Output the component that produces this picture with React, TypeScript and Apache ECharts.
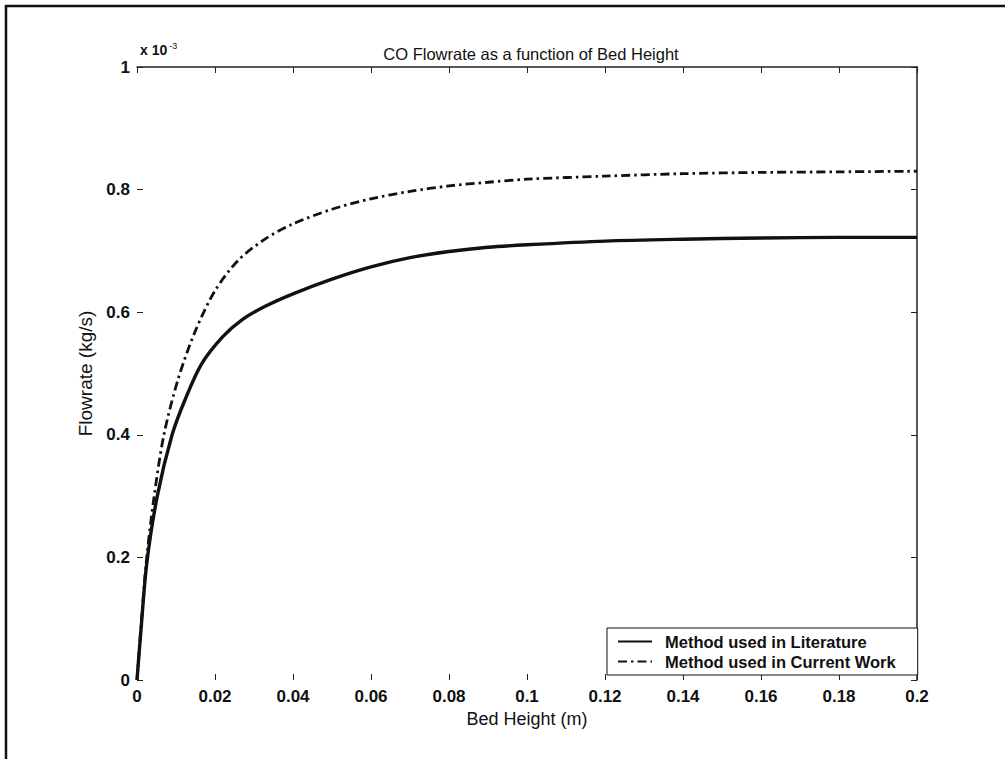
import React, { useEffect, useRef } from 'react';
import * as echarts from 'echarts';

const chartTitle = 'CO Flowrate as a function of Bed Height';
const xAxisName = 'Bed Height (m)';
const yAxisName = 'Flowrate (kg/s)';
const seriesNames = ['Method used in Literature', 'Method used in Current Work'];

// Bed height (m) and flowrate (x 10^-3 kg/s)
const litX = [0, 0.001, 0.0025, 0.0052, 0.009, 0.0125, 0.0165, 0.022, 0.027, 0.033, 0.04, 0.05, 0.06, 0.07, 0.08, 0.09, 0.1, 0.12, 0.14, 0.16, 0.18, 0.2];
const litY = [0, 0.08, 0.19, 0.3, 0.4, 0.46, 0.515, 0.56, 0.588, 0.61, 0.63, 0.654, 0.674, 0.689, 0.699, 0.706, 0.71, 0.716, 0.719, 0.721, 0.722, 0.722];

const curX = [0, 0.001, 0.0025, 0.0044, 0.0069, 0.0105, 0.015, 0.02, 0.026, 0.033, 0.04, 0.05, 0.06, 0.07, 0.08, 0.09, 0.1, 0.12, 0.14, 0.16, 0.18, 0.2];
const curY = [0, 0.085, 0.2, 0.3, 0.4, 0.49, 0.57, 0.635, 0.685, 0.72, 0.744, 0.768, 0.785, 0.797, 0.806, 0.812, 0.817, 0.822, 0.826, 0.828, 0.829, 0.83];

const FONT = '"Liberation Sans", Arial, Helvetica, sans-serif';

export default function App() {
  const ref = useRef<HTMLDivElement>(null);
  useEffect(() => {
    const chart = echarts.init(ref.current as HTMLDivElement, null, { renderer: 'svg' });
    const litData = litX.map((x, i) => [x, litY[i]]);
    const curData = curX.map((x, i) => [x, curY[i]]);
    chart.setOption({
      animation: false,
      backgroundColor: '#ffffff',
      textStyle: { fontFamily: FONT },
      title: {
        text: chartTitle,
        left: 526,
        top: 40,
        textAlign: 'center',
        textStyle: { fontFamily: FONT, fontSize: 16.5, fontWeight: 'normal', color: '#111' },
      },
      grid: { left: 137, right: 88, top: 67, bottom: 79, containLabel: false },
      legend: {
        orient: 'vertical',
        left: 607,
        top: 628,
        padding: [5, 22, 5, 10],
        itemGap: 3,
        itemWidth: 34,
        itemHeight: 12,
        borderColor: '#111',
        borderWidth: 1,
        backgroundColor: '#fff',
        itemStyle: { opacity: 0 },
        textStyle: { fontFamily: FONT, fontSize: 16.5, fontWeight: 'bold', color: '#111', padding: [0, 0, 0, 8] },
        data: seriesNames,
      },
      xAxis: [
        {
          type: 'value',
          min: 0,
          max: 0.2,
          interval: 0.02,
          name: xAxisName,
          nameLocation: 'middle',
          nameGap: 30,
          nameTextStyle: { fontFamily: FONT, fontSize: 18, color: '#111' },
          axisLine: { show: false, onZero: false },
          axisTick: { show: true, inside: true, length: 6, lineStyle: { color: '#222', width: 1 } },
          axisLabel: { margin: 8, fontSize: 17, fontWeight: 'bold', color: '#111', fontFamily: FONT },
          splitLine: { show: false },
        },
        {
          type: 'value',
          position: 'top',
          min: 0,
          max: 0.2,
          interval: 0.02,
          axisLine: { show: true, onZero: false, lineStyle: { color: '#222', width: 1.5 } },
          axisTick: { show: true, inside: true, length: 6, lineStyle: { color: '#222', width: 1 } },
          axisLabel: { show: false },
          splitLine: { show: false },
        },
      ],
      yAxis: [
        {
          type: 'value',
          min: 0,
          max: 1,
          interval: 0.2,
          name: yAxisName,
          nameLocation: 'middle',
          nameGap: 35,
          nameTextStyle: { fontFamily: FONT, fontSize: 19, color: '#111' },
          axisLine: { show: false, onZero: false },
          axisTick: { show: true, inside: true, length: 6, lineStyle: { color: '#222', width: 1 } },
          axisLabel: { margin: 7, fontSize: 17, fontWeight: 'bold', color: '#111', fontFamily: FONT },
          splitLine: { show: false },
        },
        {
          type: 'value',
          position: 'right',
          min: 0,
          max: 1,
          interval: 0.2,
          axisLine: { show: true, onZero: false, lineStyle: { color: '#222', width: 1.5 } },
          axisTick: { show: true, inside: true, length: 6, lineStyle: { color: '#222', width: 1 } },
          axisLabel: { show: false },
          splitLine: { show: false },
        },
      ],
      graphic: [
        {
          type: 'rect',
          shape: { x: 6, y: 6, width: 1010, height: 770 },
          style: { fill: 'none', stroke: '#111', lineWidth: 2.5 },
          silent: true,
        },
        {
          type: 'text',
          x: 140,
          y: 41,
          style: {
            text: 'x 10{s|-3}',
            fontFamily: FONT,
            fontSize: 14,
            fontWeight: 'bold',
            fill: '#111',
            rich: { s: { fontSize: 9, fontWeight: 'normal', verticalAlign: 'top', padding: [0, 0, 8, 2], fill: '#111' } },
          },
        },
      ],
      series: [
        {
          name: seriesNames[0],
          type: 'line',
          xAxisIndex: 0,
          yAxisIndex: 0,
          data: litData,
          showSymbol: false,
          symbol: 'none',
          smooth: 0.3,
          lineStyle: { color: '#111', width: 3.4, type: 'solid' },
          itemStyle: { color: '#111' },
        },
        {
          name: seriesNames[1],
          type: 'line',
          xAxisIndex: 0,
          yAxisIndex: 0,
          data: curData,
          showSymbol: false,
          symbol: 'none',
          smooth: 0.3,
          lineStyle: { color: '#111', width: 2.8, type: [9, 4, 2.5, 4] },
          itemStyle: { color: '#111' },
        },
      ],
    });
    return () => chart.dispose();
  }, []);
  return (
    <div
      ref={ref}
      style={{ position: 'absolute', left: 0, top: 0, width: 1005, height: 759, background: '#fff' }}
    />
  );
}
